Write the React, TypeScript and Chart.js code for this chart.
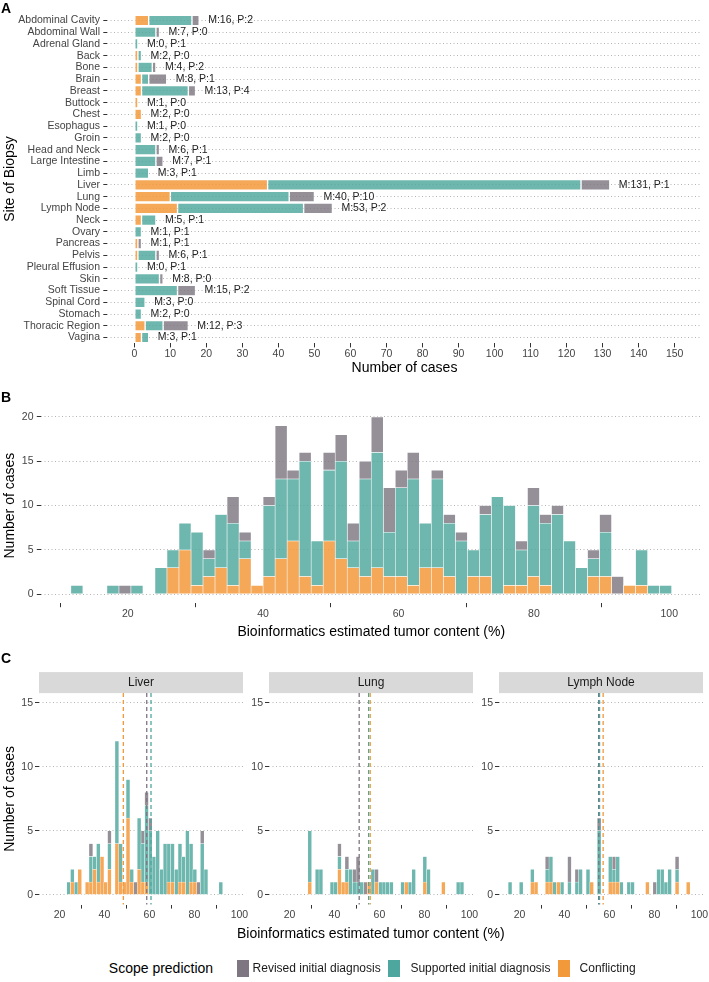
import React, { useEffect, useRef } from 'react';
import { Chart, registerables } from 'chart.js';

Chart.register(...registerables);

const FONT = "'Liberation Sans', Arial, Helvetica, sans-serif";

// ---------------- Panel A : site of biopsy ----------------
const sites = ['Abdominal Cavity', 'Abdominal Wall', 'Adrenal Gland', 'Back', 'Bone', 'Brain', 'Breast', 'Buttock', 'Chest', 'Esophagus', 'Groin', 'Head and Neck', 'Large Intestine', 'Limb', 'Liver', 'Lung', 'Lymph Node', 'Neck', 'Ovary', 'Pancreas', 'Pelvis', 'Pleural Effusion', 'Skin', 'Soft Tissue', 'Spinal Cord', 'Stomach', 'Thoracic Region', 'Vagina'];
const conflictingA = [4, 0, 0, 1, 1, 2, 2, 1, 2, 0, 0, 0, 0, 0, 37, 10, 12, 2, 0, 1, 1, 0, 0, 0, 0, 0, 3, 2];
const supportedA = [12, 6, 1, 1, 4, 2, 13, 0, 0, 1, 2, 6, 6, 4, 87, 33, 35, 4, 2, 0, 5, 1, 7, 12, 3, 2, 5, 2];
const revisedA = [2, 1, 0, 0, 1, 5, 2, 0, 0, 0, 0, 1, 2, 0, 8, 7, 8, 0, 0, 1, 1, 0, 1, 5, 0, 0, 7, 0];
const mCounts = [16, 7, 0, 2, 4, 8, 13, 1, 2, 1, 2, 6, 7, 3, 131, 40, 53, 5, 1, 1, 6, 0, 8, 15, 3, 2, 12, 3];
const pCounts = [2, 0, 1, 0, 2, 1, 4, 0, 0, 0, 0, 1, 1, 1, 1, 10, 2, 1, 1, 1, 1, 1, 0, 2, 0, 0, 3, 1];
const xTicksA = [0, 10, 20, 30, 40, 50, 60, 70, 80, 90, 100, 110, 120, 130, 140, 150];

// ---------------- Panel B : histogram of tumor content ----------------
const binStartB = 11.6;
const binWidthB = 1.775;
const conflictingB = [0, 0, 0, 0, 0, 0, 0, 0, 3, 5, 1, 2, 3, 1, 4, 1, 2, 4, 6, 2, 1, 6, 4, 3, 2, 3, 2, 2, 1, 3, 3, 2, 0, 2, 2, 0, 1, 1, 2, 1, 0, 0, 0, 2, 2, 0, 1, 1, 0, 0];
const supportedB = [1, 0, 0, 1, 0, 1, 0, 3, 2, 3, 6, 2, 6, 7, 2, 0, 8, 9, 7, 13, 5, 8, 11, 3, 11, 13, 5, 10, 12, 5, 10, 6, 6, 3, 7, 11, 9, 4, 8, 7, 9, 6, 3, 2, 5, 0, 0, 4, 1, 1];
const revisedB = [0, 0, 0, 0, 1, 0, 0, 0, 0, 0, 0, 1, 0, 3, 1, 0, 1, 6, 1, 1, 0, 2, 3, 2, 2, 4, 5, 2, 3, 0, 1, 1, 1, 0, 1, 0, 0, 1, 2, 1, 1, 0, 0, 1, 2, 2, 0, 0, 0, 0];
const yTicksB = [0, 5, 10, 15, 20];
const xTicksPct = [20, 40, 60, 80, 100];

// ---------------- Panel C : per-site histograms ----------------
const facetNames = ['Liver', 'Lung', 'Lymph Node'];
const binStartC = 15.0;
const binWidthC = 1.65;
const liverConflicting = [0, 0, 0, 0, 0, 0, 1, 0, 2, 0, 1, 1, 2, 1, 3, 1, 2, 0, 4, 1, 1, 6, 1, 0, 2, 1, 1, 0, 0, 0, 0, 0, 1, 1, 0, 1, 1, 0, 1, 1, 0, 0, 0, 0, 0, 0, 0, 0, 0, 0];
const liverSupported = [0, 0, 0, 0, 0, 1, 1, 1, 0, 0, 0, 2, 1, 3, 0, 0, 2, 0, 8, 3, 0, 3, 1, 0, 4, 3, 6, 5, 3, 5, 2, 4, 3, 3, 2, 3, 2, 5, 3, 1, 0, 4, 2, 0, 0, 0, 1, 0, 0, 0];
const liverRevised = [0, 0, 0, 0, 0, 0, 0, 0, 0, 0, 0, 1, 0, 0, 0, 0, 1, 0, 0, 0, 0, 0, 0, 1, 0, 1, 1, 1, 0, 0, 0, 0, 0, 0, 0, 0, 0, 0, 0, 0, 1, 1, 0, 0, 0, 0, 0, 0, 0, 0];
const lungConflicting = [0, 0, 0, 0, 0, 0, 0, 0, 1, 0, 0, 0, 0, 0, 0, 0, 2, 1, 1, 0, 0, 0, 0, 0, 1, 0, 1, 0, 0, 0, 0, 0, 0, 0, 1, 0, 0, 0, 0, 1, 0, 0, 0, 0, 1, 0, 0, 0, 0, 0];
const lungSupported = [0, 0, 0, 0, 0, 0, 0, 0, 4, 0, 2, 2, 0, 0, 1, 1, 1, 0, 1, 2, 1, 1, 1, 0, 0, 2, 0, 1, 1, 1, 1, 0, 0, 1, 0, 1, 2, 0, 0, 2, 2, 0, 0, 0, 0, 0, 0, 0, 1, 1];
const lungRevised = [0, 0, 0, 0, 0, 0, 0, 0, 0, 0, 0, 0, 0, 0, 0, 0, 1, 0, 1, 0, 1, 2, 0, 1, 0, 0, 1, 0, 0, 0, 0, 0, 0, 0, 0, 0, 0, 0, 0, 0, 0, 0, 0, 0, 0, 0, 0, 0, 0, 0];
const lymphConflicting = [0, 0, 0, 0, 0, 0, 1, 1, 0, 0, 1, 1, 0, 1, 0, 0, 0, 0, 0, 0, 0, 0, 1, 0, 0, 0, 0, 1, 1, 1, 0, 0, 0, 0, 0, 0, 0, 1, 0, 0, 0, 0, 0, 0, 0, 1, 0, 0, 1, 0];
const lymphSupported = [1, 0, 0, 1, 0, 0, 1, 0, 0, 0, 1, 2, 1, 0, 1, 0, 1, 0, 1, 2, 0, 2, 0, 0, 5, 0, 0, 2, 1, 2, 1, 0, 1, 1, 0, 0, 0, 0, 0, 0, 2, 2, 1, 2, 0, 1, 0, 0, 0, 0];
const lymphRevised = [0, 0, 0, 0, 0, 0, 0, 0, 0, 0, 1, 0, 0, 0, 0, 0, 2, 0, 1, 0, 0, 0, 0, 0, 1, 0, 0, 0, 1, 0, 0, 0, 0, 0, 0, 0, 0, 0, 0, 1, 0, 0, 0, 0, 0, 1, 0, 0, 0, 0];
const meanRevised = [58.8, 51.0, 55.2];
const meanSupported = [60.7, 55.2, 55.6];
const meanConflicting = [48.4, 55.9, 57.2];
const yTicksC = [0, 5, 10, 15];

// ---------------- Styling ----------------
const BASE = { revised: '#7E7681', supported: '#4EA79E', conflicting: '#F2993B' };
const FILL = {
  revised: 'rgba(126,118,129,0.82)',
  supported: 'rgba(78,167,158,0.82)',
  conflicting: 'rgba(242,153,59,0.85)',
};
const LEGEND = ['Revised initial diagnosis', 'Supported initial diagnosis', 'Conflicting'];
const X_TITLE_PCT = 'Bioinformatics estimated tumor content (%)';
const TICK_TEXT = '#444444';
const TICK_MARK = '#333333';
const GRID = '#B5B5B5';

const tickFont = { family: FONT, size: 10.5 };
const titleFont = { family: FONT, size: 14 };

const setTicks = (vals: number[]) => (scale: any) => {
  scale.ticks = vals.map((v) => ({ value: v }));
};
const gridDotted = { color: GRID, lineWidth: 1, drawOnChartArea: true, drawTicks: true, tickLength: 4, tickColor: TICK_MARK, tickWidth: 1, tickBorderDash: [] };
const borderDotted = { display: false, dash: [1, 2.5] };
const gridNone = { drawOnChartArea: false, drawTicks: true, tickLength: 4, tickColor: TICK_MARK, tickWidth: 1, tickBorderDash: [] };

function histDataset(label: string, counts: number[], start: number, width: number, fill: string, bw: number) {
  return {
    label,
    data: counts.map((c, k) => ({ x: start + width * (k + 0.5), y: c === 0 ? null : c })),
    backgroundColor: fill,
    borderColor: '#FFFFFF',
    borderWidth: bw,
    borderSkipped: false,
    barPercentage: 1,
    categoryPercentage: 1,
  };
}

const mpLabelPlugin = {
  id: 'mpLabels',
  afterDatasetsDraw(chart: any) {
    const { ctx } = chart;
    const x = chart.scales.x;
    const y = chart.scales.y;
    ctx.save();
    ctx.font = `10.5px ${FONT}`;
    ctx.fillStyle = '#222222';
    ctx.textAlign = 'left';
    ctx.textBaseline = 'middle';
    sites.forEach((_s, i) => {
      const total = conflictingA[i] + supportedA[i] + revisedA[i];
      ctx.fillText(`M:${mCounts[i]}, P:${pCounts[i]}`, x.getPixelForValue(total) + 9, y.getPixelForValue(i));
    });
    ctx.restore();
  },
};

function stripPlugin(text: string) {
  return {
    id: 'strip',
    beforeDraw(chart: any) {
      const { ctx, chartArea } = chart;
      const h = 21;
      ctx.save();
      ctx.fillStyle = '#D9D9D9';
      ctx.fillRect(chartArea.left, chartArea.top - h, chartArea.right - chartArea.left, h);
      ctx.fillStyle = '#1A1A1A';
      ctx.font = `12px ${FONT}`;
      ctx.textAlign = 'center';
      ctx.textBaseline = 'middle';
      ctx.fillText(text, (chartArea.left + chartArea.right) / 2, chartArea.top - h / 2);
      ctx.restore();
    },
  };
}

function meanLinePlugin(lines: { value: number; color: string }[]) {
  return {
    id: 'meanLines',
    afterDatasetsDraw(chart: any) {
      const { ctx, chartArea } = chart;
      const x = chart.scales.x;
      ctx.save();
      ctx.lineWidth = 1.3;
      ctx.setLineDash([4, 3]);
      lines.forEach((m) => {
        const px = x.getPixelForValue(m.value);
        ctx.strokeStyle = m.color;
        ctx.beginPath();
        ctx.moveTo(px, chartArea.top);
        ctx.lineTo(px, chartArea.bottom);
        ctx.stroke();
      });
      ctx.restore();
    },
  };
}

const common = {
  responsive: false,
  animation: false,
  devicePixelRatio: 1,
  events: [],
  plugins: { legend: { display: false }, tooltip: { enabled: false } },
};

function configA(): any {
  const ds = (label: string, data: number[], fill: string) => ({
    label, data, backgroundColor: fill, borderColor: '#FFFFFF', borderWidth: 0.7, borderSkipped: false,
    barPercentage: 0.9, categoryPercentage: 1,
  });
  return {
    type: 'bar',
    data: {
      labels: sites,
      datasets: [
        ds(LEGEND[2], conflictingA, FILL.conflicting),
        ds(LEGEND[1], supportedA, FILL.supported),
        ds(LEGEND[0], revisedA, FILL.revised),
      ],
    },
    options: {
      ...common,
      indexAxis: 'y',
      layout: { autoPadding: false, padding: { top: 14.6, right: 7.3, bottom: 0, left: 0 } },
      scales: {
        x: {
          type: 'linear', stacked: true, min: -7.5, max: 157.5, offset: false,
          afterBuildTicks: setTicks(xTicksA),
          afterFit: (s: any) => { s.height = 33.6; },
          grid: gridNone, border: { display: false },
          ticks: { autoSkip: false, maxRotation: 0, padding: 0, font: tickFont, color: TICK_TEXT },
          title: { display: true, text: 'Number of cases', font: titleFont, color: '#000000', padding: { top: 0, bottom: 0 } },
        },
        y: {
          type: 'category', stacked: true, offset: true,
          afterFit: (s: any) => { s.width = 107.3; },
          grid: { ...gridDotted, offset: false }, border: borderDotted,
          ticks: { autoSkip: false, padding: 3.3, font: tickFont, color: TICK_TEXT },
          title: { display: true, text: 'Site of Biopsy', font: titleFont, color: '#000000', padding: { top: 1.5, bottom: 0 } },
        },
      },
    },
    plugins: [mpLabelPlugin],
  };
}

function configB(): any {
  return {
    type: 'bar',
    data: {
      datasets: [
        histDataset(LEGEND[2], conflictingB, binStartB, binWidthB, FILL.conflicting, 0.6),
        histDataset(LEGEND[1], supportedB, binStartB, binWidthB, FILL.supported, 0.6),
        histDataset(LEGEND[0], revisedB, binStartB, binWidthB, FILL.revised, 0.6),
      ],
    },
    options: {
      ...common,
      layout: { autoPadding: false, padding: { top: 28, right: 7.3, bottom: 0, left: 0 } },
      scales: {
        x: {
          type: 'linear', stacked: true, offset: false, min: 7.16, max: 104.79,
          afterBuildTicks: setTicks(xTicksPct),
          afterFit: (s: any) => { s.height = 37.8; },
          grid: gridNone, border: { display: false },
          ticks: { autoSkip: false, maxRotation: 0, padding: 0.5, font: tickFont, color: TICK_TEXT },
          title: { display: true, text: X_TITLE_PCT, font: titleFont, color: '#000000', padding: { top: 0, bottom: 0 } },
        },
        y: {
          type: 'linear', stacked: true, min: -1, max: 21,
          afterBuildTicks: setTicks(yTicksB),
          afterFit: (s: any) => { s.width = 40.8; },
          grid: gridDotted, border: borderDotted,
          ticks: { padding: 3.3, font: tickFont, color: TICK_TEXT },
          title: { display: true, text: 'Number of cases', font: titleFont, color: '#000000', padding: { top: 1.5, bottom: 0 } },
        },
      },
    },
  };
}

const facetSeries = [
  [liverConflicting, liverSupported, liverRevised],
  [lungConflicting, lungSupported, lungRevised],
  [lymphConflicting, lymphSupported, lymphRevised],
];

function configFacet(i: number): any {
  const [conf, supp, rev] = facetSeries[i];
  return {
    type: 'bar',
    data: {
      datasets: [
        histDataset(LEGEND[2], conf, binStartC, binWidthC, FILL.conflicting, 0.45),
        histDataset(LEGEND[1], supp, binStartC, binWidthC, FILL.supported, 0.45),
        histDataset(LEGEND[0], rev, binStartC, binWidthC, FILL.revised, 0.45),
      ],
    },
    options: {
      ...common,
      layout: { autoPadding: false, padding: { top: 43.1, right: 14, bottom: 0, left: 0 } },
      scales: {
        x: {
          type: 'linear', stacked: true, offset: false, min: 10.9, max: 101.6,
          afterBuildTicks: setTicks(xTicksPct),
          afterFit: (s: any) => { s.height = 37.4; },
          grid: gridNone, border: { display: false },
          ticks: { autoSkip: false, maxRotation: 0, padding: 0.5, font: tickFont, color: TICK_TEXT },
        },
        y: {
          type: 'linear', stacked: true, min: -0.75, max: 15.75,
          afterBuildTicks: setTicks(yTicksC),
          afterFit: (s: any) => { s.width = 39; },
          grid: gridDotted, border: borderDotted,
          ticks: { padding: 2, font: tickFont, color: TICK_TEXT },
          title: { display: i === 0, text: 'Number of cases', font: titleFont, color: '#000000', padding: { top: 1.5, bottom: 0 } },
        },
      },
    },
    plugins: [
      stripPlugin(facetNames[i]),
      meanLinePlugin([
        { value: meanRevised[i], color: BASE.revised },
        { value: meanSupported[i], color: BASE.supported },
        { value: meanConflicting[i], color: BASE.conflicting },
      ]),
    ],
  };
}

const facetLefts = [0, 229.8, 459.6];

export default function App() {
  const refA = useRef<HTMLCanvasElement>(null);
  const refB = useRef<HTMLCanvasElement>(null);
  const refC0 = useRef<HTMLCanvasElement>(null);
  const refC1 = useRef<HTMLCanvasElement>(null);
  const refC2 = useRef<HTMLCanvasElement>(null);

  useEffect(() => {
    Chart.defaults.font.family = FONT;
    const charts: Chart[] = [];
    if (refA.current) charts.push(new Chart(refA.current, configA()));
    if (refB.current) charts.push(new Chart(refB.current, configB()));
    [refC0, refC1, refC2].forEach((r, i) => {
      if (r.current) charts.push(new Chart(r.current, configFacet(i)));
    });
    return () => charts.forEach((c) => c.destroy());
  }, []);

  const letter = (t: string, top: number) => (
    <div style={{ position: 'absolute', left: 1, top, font: `bold 14px ${FONT}`, lineHeight: '17px', color: '#000' }}>{t}</div>
  );
  const keyBox = (left: number, color: string) => (
    <div style={{ position: 'absolute', left, top: 959.5, width: 12, height: 17, background: color }} />
  );
  const keyText = (left: number, text: string) => (
    <div style={{ position: 'absolute', left, top: 961, font: `12px ${FONT}`, lineHeight: '14px', color: '#1A1A1A', whiteSpace: 'nowrap' }}>{text}</div>
  );

  return (
    <div style={{ position: 'absolute', left: 0, top: 0, width: 709, height: 982, overflow: 'hidden', background: '#FFFFFF', fontFamily: FONT }}>
      <canvas ref={refA} width={709} height={377} style={{ position: 'absolute', left: 0, top: 0 }} />
      <canvas ref={refB} width={709} height={261} style={{ position: 'absolute', left: 0, top: 380 }} />
      <canvas ref={refC0} width={257} height={292} style={{ position: 'absolute', left: facetLefts[0], top: 650 }} />
      <canvas ref={refC1} width={257} height={292} style={{ position: 'absolute', left: facetLefts[1], top: 650 }} />
      <canvas ref={refC2} width={257} height={292} style={{ position: 'absolute', left: facetLefts[2], top: 650 }} />
      {letter('A', 0)}
      {letter('B', 389.4)}
      {letter('C', 650)}
      <div style={{ position: 'absolute', left: 370.8, top: 925.1, transform: 'translateX(-50%)', font: `14px ${FONT}`, lineHeight: '17px', color: '#000', whiteSpace: 'nowrap' }}>{X_TITLE_PCT}</div>
      <div style={{ position: 'absolute', left: 108.8, top: 959.5, font: `14px ${FONT}`, lineHeight: '17px', color: '#000', whiteSpace: 'nowrap' }}>Scope prediction</div>
      {keyBox(236.7, BASE.revised)}
      {keyText(252.6, LEGEND[0])}
      {keyBox(387.8, BASE.supported)}
      {keyText(410.4, LEGEND[1])}
      {keyBox(557.8, BASE.conflicting)}
      {keyText(579.6, LEGEND[2])}
    </div>
  );
}
